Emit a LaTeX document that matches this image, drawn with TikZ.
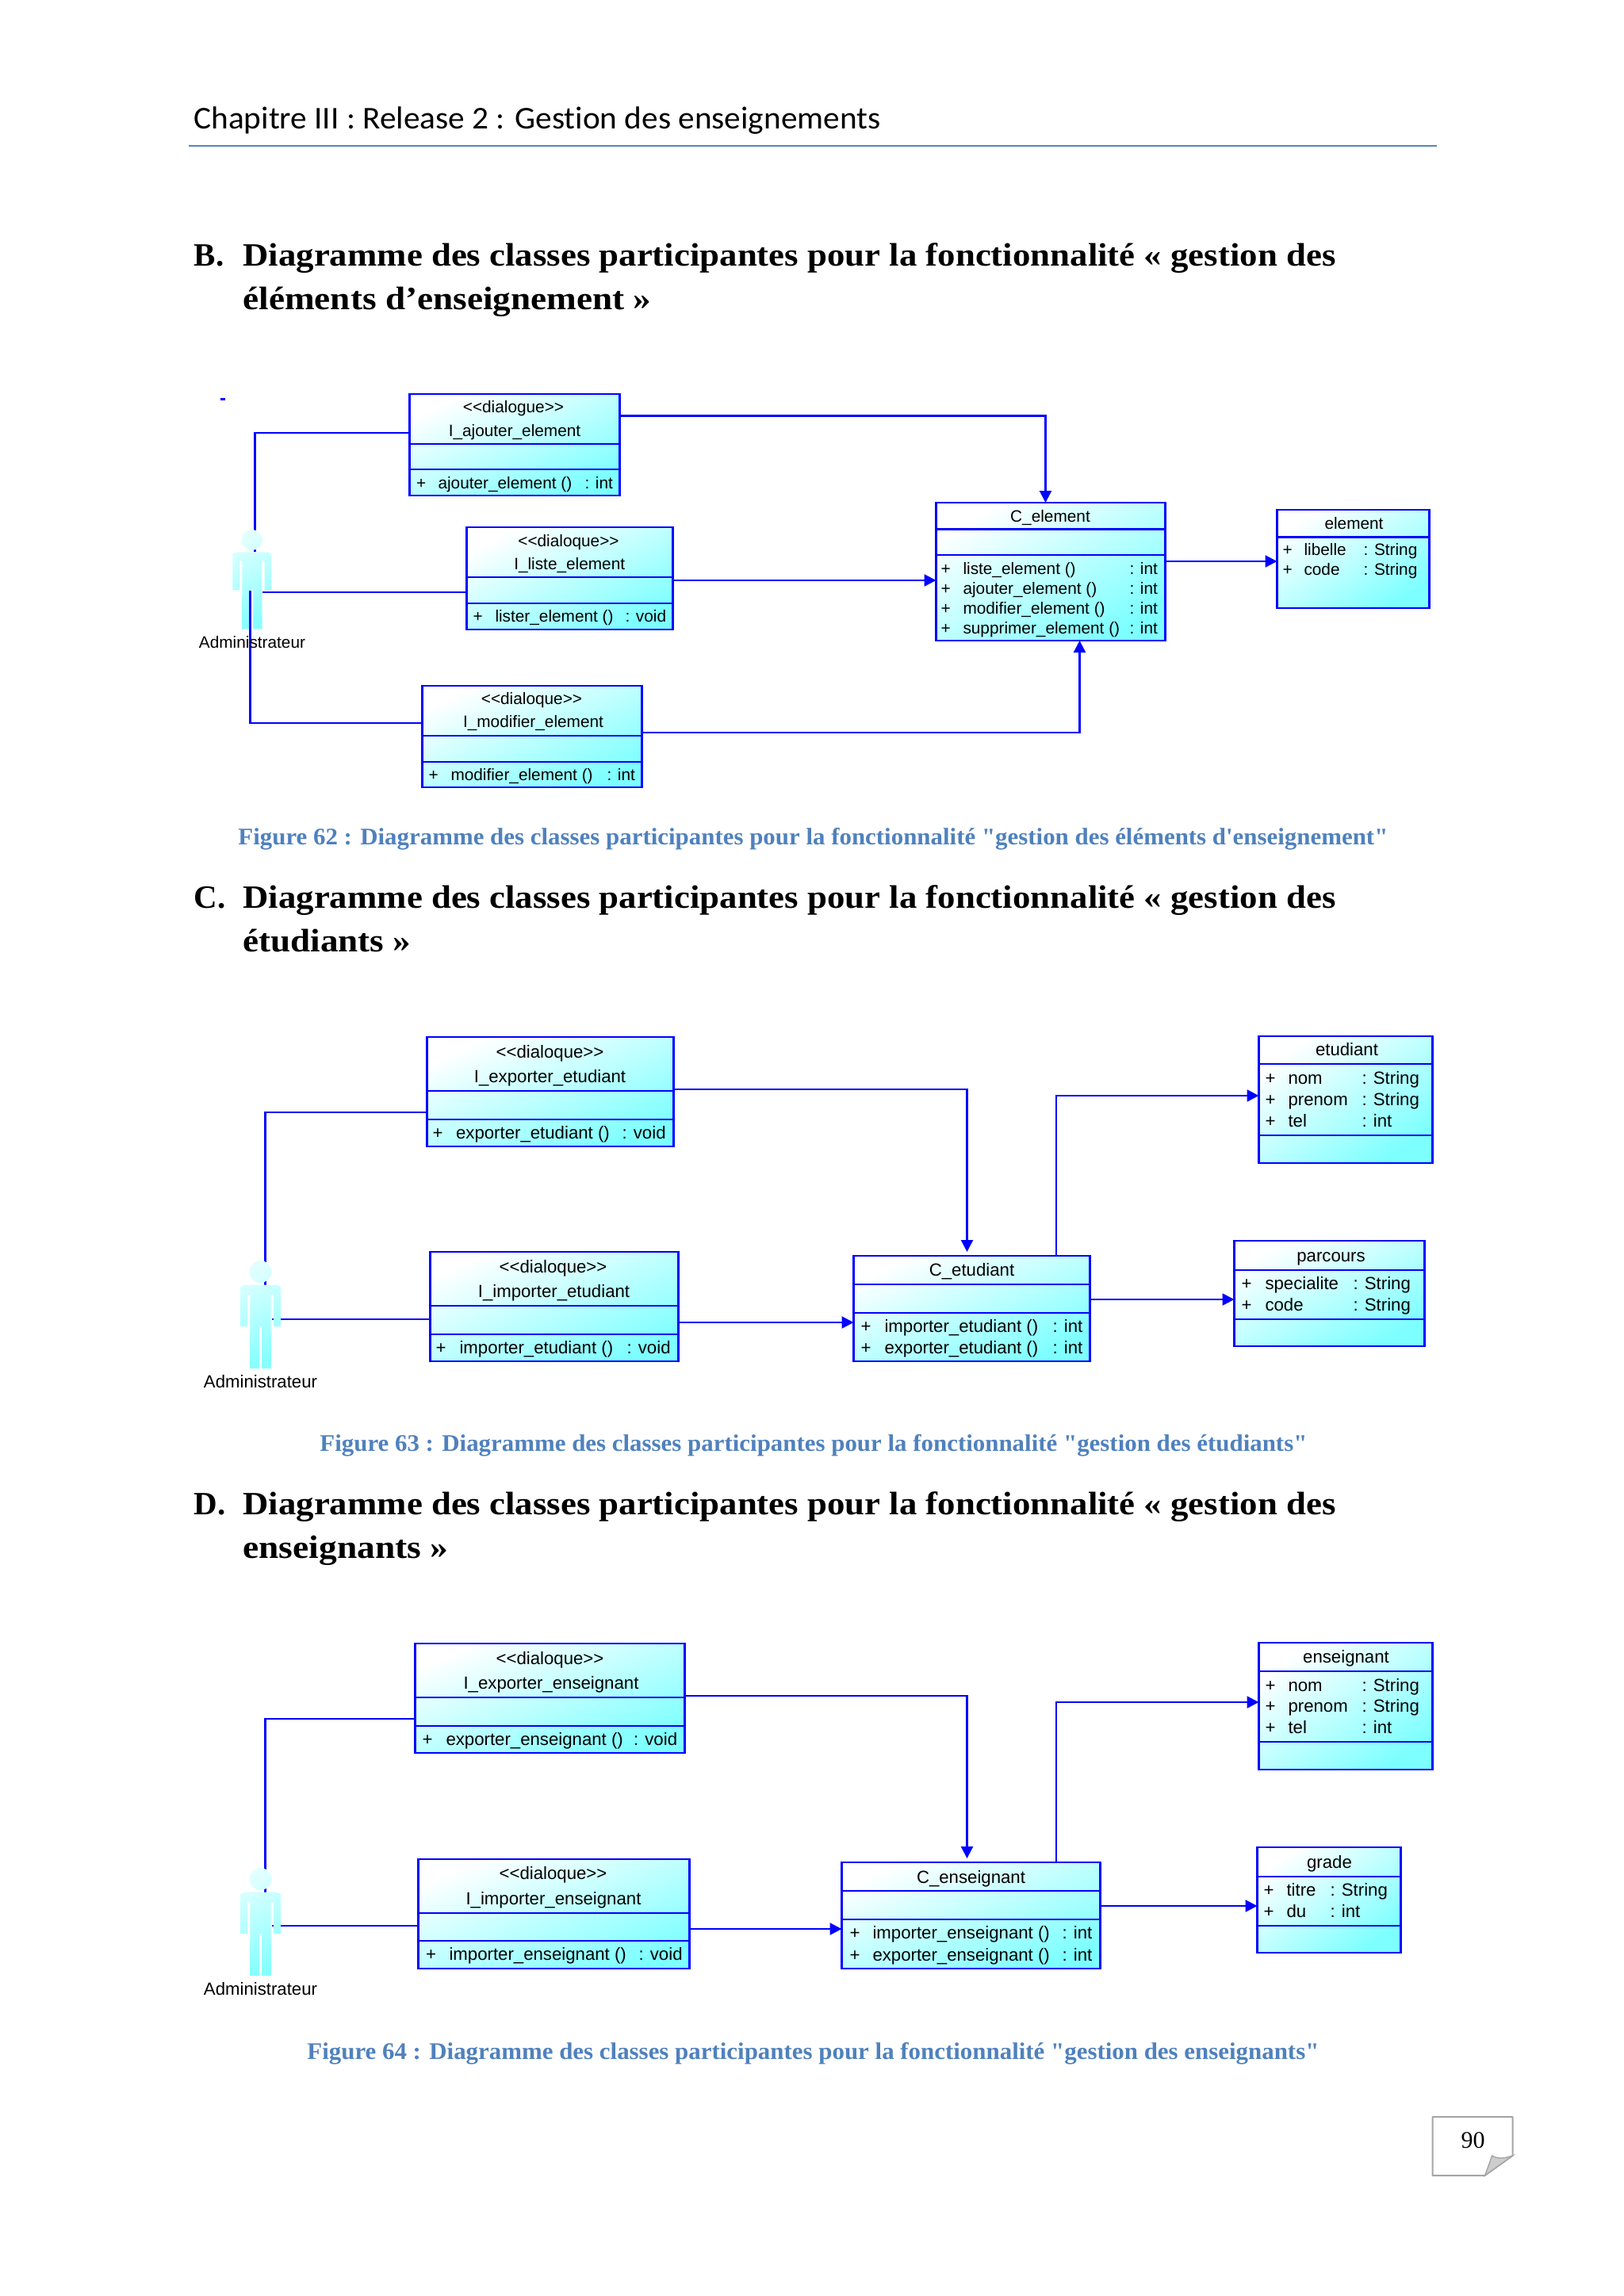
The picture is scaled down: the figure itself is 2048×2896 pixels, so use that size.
\documentclass[tikz,border=0pt]{standalone}
\usepackage{fontspec}
\usepackage{graphicx}
\usetikzlibrary{arrows.meta}
\newfontfamily\umlf{Liberation Sans}
\newfontfamily\headf{Carlito}[Ligatures=NoCommon]
\newfontfamily\titlef{Liberation Serif}[BoldFont={Liberation Serif Bold}]
\definecolor{umlblue}{RGB}{0,0,255}
\definecolor{umlmid}{RGB}{172,255,255}
\definecolor{umlcyan}{RGB}{125,255,255}
\definecolor{actlight}{RGB}{225,255,255}
\definecolor{actcyan}{RGB}{135,255,255}
\definecolor{headrule}{RGB}{90,133,181}
\definecolor{capblue}{RGB}{79,129,189}
\definecolor{pagegray}{RGB}{165,165,165}
\definecolor{flapgray}{RGB}{205,205,205}
\newcommand\umlsize{}
\newcounter{tc}
\tikzset{
  classbox/.style={draw=umlblue,line width=1.25pt,shade,top color=white,middle color=umlmid,bottom color=umlcyan,inner sep=0pt,outer sep=0pt,anchor=north west},
  sepline/.style={draw=umlblue,line width=1.25pt},
  conn/.style={draw=umlblue,line width=1.2pt},
  arr/.style={conn,-{Triangle[length=7.5pt,width=7.5pt]}},
  lbl/.style={inner sep=0pt,outer sep=0pt,text=black,font=\umlf\umlsize},
  acts/.style={shade,top color=actlight,bottom color=actcyan,shading angle=25,draw=none},
  actorfig/.pic={
    \path[acts] (0,0) circle[radius=14]
      (-20,16.7) -- (20,16.7) -- (25.7,19) -- (25.7,69) -- (16.7,69) -- (16.7,29) -- (13,29) -- (13.5,122) -- (1.7,122) -- (1.7,69) -- (-1.7,69) -- (-1.7,122) -- (-13.5,122) -- (-13,29) -- (-16.7,29) -- (-16.7,69) -- (-25.7,69) -- (-25.7,19) -- cycle;
  }
}
% class box: name, left, top, right, bottom
\newcommand\cbox[5]{%
  \pgfmathsetmacro\bw{(#4-#2)*0.5}\pgfmathsetmacro\bh{(#5-#3)*0.5}%
  \pgfmathsetmacro\sa{atan(\bh/\bw)}%
  \node[classbox,shading angle=\sa,minimum width=\bw pt,minimum height=\bh pt] (#1) at (#2,#3) {};}
\newcommand\sepl[2]{\draw[sepline] (#1.west |- 0,#2) -- (#1.east |- 0,#2);}
\newcommand\ct[3]{\stepcounter{tc}\node[lbl,anchor=base] (t\thetc) at (#1-1,#2+7) {#3};}
\newcommand\lt[3]{\stepcounter{tc}\node[lbl,anchor=base west] (t\thetc) at (#1-1,#2+7) {#3};}
% row: y, x+, xname, xcolon, name, type
\newcommand\rowt[6]{\lt{#2-6}{#1}{+}\lt{#3}{#1}{#5}\lt{#4}{#1}{: #6}}
\newcommand\fitw[2]{\resizebox{#1pt}{\height}{#2}}
\newcommand\htitle[3]{\stepcounter{tc}\node[inner sep=0pt,anchor=base west,font=\titlef\bfseries\fontsize{20.5pt}{24pt}\selectfont] (t\thetc) at (#1,#2) {#3};}
\newcommand\capt[4]{\stepcounter{tc}\node[inner sep=0pt,anchor=base west,text=capblue,font=\titlef\bfseries\fontsize{15pt}{18pt}\selectfont] (t\thetc) at (#1,#2) {\fitw{#3}{#4}};}
\begin{document}
\begin{tikzpicture}[x=0.5pt,y=-0.5pt]
\useasboundingbox (0,0) rectangle (2048,2896);
\fill[white] (0,0) rectangle (2048,2896);

% page header
\node[inner sep=0pt,anchor=base west,font=\headf\fontsize{20pt}{24pt}\selectfont] (hdr) at (244,162) {\fitw{433}{Chapitre III : Release 2 : Gestion des enseignements}};
\coordinate (ruleA) at (238,184);
\coordinate (ruleB) at (1812,184);
\draw[headrule,line width=1.1pt] (ruleA) -- (ruleB);

% section titles
\htitle{244.5}{335}{B.}
\htitle{306}{335}{\fitw{689}{Diagramme des classes participantes pour la fonctionnalité « gestion des}}
\htitle{306}{390}{\fitw{257.5}{éléments d’enseignement »}}
\htitle{244.5}{1145}{C.}
\htitle{306}{1145}{\fitw{689}{Diagramme des classes participantes pour la fonctionnalité « gestion des}}
\htitle{306}{1200}{\fitw{106}{étudiants »}}
\htitle{244.5}{1910}{D.}
\htitle{306}{1910}{\fitw{689}{Diagramme des classes participantes pour la fonctionnalité « gestion des}}
\htitle{306}{1965}{\fitw{129.5}{enseignants »}}

% captions
\capt{300}{1065}{725}{Figure 62 : Diagramme des classes participantes pour la fonctionnalité "gestion des éléments d'enseignement"}
\capt{403}{1830}{622.5}{Figure 63 : Diagramme des classes participantes pour la fonctionnalité "gestion des étudiants"}
\capt{387}{2597}{638}{Figure 64 : Diagramme des classes participantes pour la fonctionnalité "gestion des enseignants"}

\begin{scope}[xshift=0.75pt]
%%%%%%%%%% Diagram B
\renewcommand\umlsize{\fontsize{10.4pt}{12pt}\selectfont}
\draw[conn] (276.5,503.5) -- (282.5,503.5);

\cbox{ia}{515}{497}{780}{625}\sepl{ia}{560}\sepl{ia}{592}
\ct{647}{513.5}{<{}<dialogue>{}>}
\ct{648.5}{543}{I\_ajouter\_element}
\rowt{609}{530.6}{552}{737}{ajouter\_element ()}{int}

\cbox{il}{587}{665}{847}{794}\sepl{il}{728}\sepl{il}{761}
\ct{716.5}{682}{<{}<dialoque>{}>}
\ct{717.7}{711}{I\_liste\_element}
\rowt{777}{602}{624}{788}{lister\_element ()}{void}

\cbox{im}{531}{865}{808}{993}\sepl{im}{928}\sepl{im}{961}
\ct{670}{881}{<{}<dialoque>{}>}
\ct{672}{910}{I\_modifier\_element}
\rowt{977}{546}{568}{765}{modifier\_element ()}{int}

\cbox{ce}{1179}{634}{1468}{808}\sepl{ce}{667.7}\sepl{ce}{700}
\ct{1324}{651}{C\_element}
\rowt{717}{1192}{1214}{1424}{liste\_element ()}{int}
\rowt{742}{1192}{1214}{1424}{ajouter\_element ()}{int}
\rowt{767}{1192}{1214}{1424}{modifier\_element ()}{int}
\rowt{792}{1192}{1214}{1424}{supprimer\_element ()}{int}

\cbox{el}{1609}{643}{1801}{767}\sepl{el}{677.7}
\ct{1707}{660.7}{element}
\rowt{693}{1623}{1644}{1719}{libelle}{String}
\rowt{718}{1623}{1644}{1719}{code}{String}

\coordinate (actBtop) at (320,696);
\coordinate (actBleg) at (329,747);
\coordinate (actBlow) at (314,745);
\draw[conn] (ia.west |- 0,546) -| (actBtop);
\draw[conn] (il.west |- 0,747) -- (actBleg);
\pic[xscale=.947,yscale=.92] (actB) at (316.3,681) {actorfig};
\draw[conn] (im.west |- 0,912) -| (actBlow);
\node[lbl,anchor=base] (adminB) at (316.5,817) {Administrateur};

\draw[arr] (ia.east |- 0,524.5) -| (ce.north -| 1317,0);
\draw[arr] (il.east |- 0,732) -- (ce.west |- 0,732);
\draw[arr] (im.east |- 0,924) -| (ce.south -| 1360,0);
\draw[arr] (ce.east |- 0,708) -- (el.west |- 0,708);

%%%%%%%%%% Diagram C
\renewcommand\umlsize{\fontsize{11.1pt}{13pt}\selectfont}
\cbox{ix}{537}{1308}{848}{1446}\sepl{ix}{1376}\sepl{ix}{1412}
\ct{693}{1327}{<{}<dialoque>{}>}
\ct{693}{1358}{I\_exporter\_etudiant}
\rowt{1429}{551}{574.6}{784}{exporter\_etudiant ()}{void}

\cbox{ii}{541}{1579}{854}{1717}\sepl{ii}{1647}\sepl{ii}{1683}
\ct{697}{1598}{<{}<dialoque>{}>}
\ct{698}{1629}{I\_importer\_etudiant}
\rowt{1700}{555}{579}{790}{importer\_etudiant ()}{void}

\cbox{ct}{1075}{1584}{1373}{1717}\sepl{ct}{1620}\sepl{ct}{1656}
\ct{1225}{1602}{C\_etudiant}
\rowt{1673}{1091}{1115}{1327}{importer\_etudiant ()}{int}
\rowt{1700}{1091}{1115}{1327}{exporter\_etudiant ()}{int}

\cbox{et}{1586}{1307}{1805}{1467}\sepl{et}{1342}\sepl{et}{1432}
\ct{1698}{1324}{etudiant}
\rowt{1360}{1601}{1624}{1717}{nom}{String}
\rowt{1387}{1601}{1624}{1717}{prenom}{String}
\rowt{1414}{1601}{1624}{1717}{tel}{int}

\cbox{pa}{1555}{1565}{1795}{1698}\sepl{pa}{1602}\sepl{pa}{1664}
\ct{1678}{1584}{parcours}
\rowt{1619}{1571}{1595}{1706}{specialite}{String}
\rowt{1646}{1571}{1595}{1706}{code}{String}

\coordinate (actCtop) at (333,1621);
\coordinate (actCleg) at (341,1664);
\draw[conn] (ix.west |- 0,1403) -| (actCtop);
\draw[conn] (ii.west |- 0,1664) -- (actCleg);
\pic (actC) at (327,1604) {actorfig};
\node[lbl,anchor=base] (adminC) at (327,1750) {Administrateur};

\coordinate (ctin) at (1218,1579);
\draw[arr] (ix.east |- 0,1374) -| (ctin);
\draw[arr] (ii.east |- 0,1668) -- (ct.west |- 0,1668);
\draw[arr] (ct.north -| 1330.6,0) |- (et.west |- 0,1382);
\draw[arr] (ct.east |- 0,1639) -- (pa.west |- 0,1639);

%%%%%%%%%% Diagram D
\cbox{jx}{522}{2073}{862}{2211}\sepl{jx}{2141}\sepl{jx}{2177}
\ct{693}{2092}{<{}<dialoque>{}>}
\ct{694.5}{2123}{I\_exporter\_enseignant}
\rowt{2194}{538}{562}{798.5}{exporter\_enseignant ()}{void}

\cbox{ji}{526}{2345}{868}{2483}\sepl{ji}{2413}\sepl{ji}{2448}
\ct{697}{2363}{<{}<dialoque>{}>}
\ct{697.5}{2395}{I\_importer\_enseignant}
\rowt{2465}{542.6}{566}{805}{importer\_enseignant ()}{void}

\cbox{cn}{1060}{2349}{1386}{2483}\sepl{cn}{2385}\sepl{cn}{2421}
\ct{1224}{2368}{C\_enseignant}
\rowt{2438}{1077}{1100}{1339}{importer\_enseignant ()}{int}
\rowt{2466}{1077}{1100}{1339}{exporter\_enseignant ()}{int}

\cbox{en}{1586}{2072}{1805}{2232}\sepl{en}{2108}\sepl{en}{2197}
\ct{1697}{2090}{enseignant}
\rowt{2126}{1601}{1624}{1717}{nom}{String}
\rowt{2152}{1601}{1624}{1717}{prenom}{String}
\rowt{2179}{1601}{1624}{1717}{tel}{int}

\cbox{gr}{1584}{2330}{1765}{2463}\sepl{gr}{2367}\sepl{gr}{2429}
\ct{1676}{2349}{grade}
\rowt{2384}{1599}{1622}{1677}{titre}{String}
\rowt{2411}{1599}{1622}{1677}{du}{int}

\coordinate (actDtop) at (333,2387);
\coordinate (actDleg) at (341,2429);
\draw[conn] (jx.west |- 0,2168) -| (actDtop);
\draw[conn] (ji.west |- 0,2429) -- (actDleg);
\pic (actD) at (327,2370) {actorfig};
\node[lbl,anchor=base] (adminD) at (327,2516) {Administrateur};

\coordinate (cnin) at (1218,2344);
\draw[arr] (jx.east |- 0,2139) -| (cnin);
\draw[arr] (ji.east |- 0,2433) -- (cn.west |- 0,2433);
\draw[arr] (cn.north -| 1330.6,0) |- (en.west |- 0,2147);
\draw[arr] (cn.east |- 0,2404) -- (gr.west |- 0,2404);
\end{scope}

%%%%%%%%%% page number
\begin{scope}[xshift=1.25pt]
\draw[pagegray,line width=1pt,fill=white,line join=round] (1804,2670) -- (1905,2670) -- (1905,2719) -- (1870,2744) -- (1804,2744) -- cycle;
\draw[pagegray,line width=.7pt,fill=flapgray] (1905,2719) .. controls (1893,2723) and (1886,2723) .. (1879,2719) .. controls (1876,2728) and (1873,2736) .. (1870,2744) -- cycle;
\node[inner sep=0pt,font=\titlef\fontsize{15pt}{18pt}\selectfont] (pg) at (1855,2700) {90};
\end{scope}
\end{tikzpicture}
\end{document}
